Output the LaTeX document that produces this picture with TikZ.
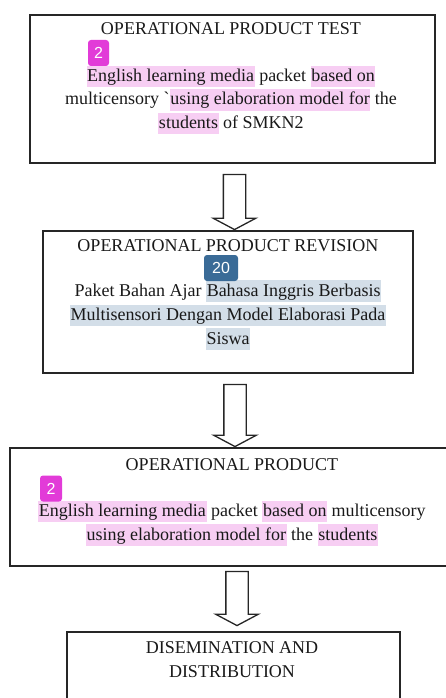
\documentclass[tikz,border=0pt]{standalone}
\usepackage{fontspec}
\setmainfont{Liberation Serif}[Ligatures=TeXOff]
\newfontfamily\badgefont{Liberation Sans}
\usetikzlibrary{shapes.arrows, positioning}

\definecolor{hlpink}{HTML}{F7CEF3}
\definecolor{hlblue}{HTML}{D3DEE8}
\definecolor{tagpink}{HTML}{E23BD8}
\definecolor{tagblue}{HTML}{3A6B97}
\newcommand{\hlp}[1]{{\fboxsep=0.6pt\colorbox{hlpink}{\rule[-0.28em]{0pt}{1.12em}#1}}}
\newcommand{\hlb}[1]{{\fboxsep=0.6pt\colorbox{hlblue}{\rule[-0.28em]{0pt}{1.12em}#1}}}

\begin{document}
\begin{tikzpicture}[x=1pt, y=-1pt,
    box/.style={draw=black!85, line width=1.4pt, inner sep=0pt},
    txt/.style={anchor=base, inner sep=0pt, text=black!90, font=\fontsize{18}{23.5}\selectfont},
    tag/.style={rounded corners=3pt, inner sep=0pt, minimum height=26pt, text=white, font=\badgefont\fontsize{16}{16}\selectfont},
    bigarrow/.style={single arrow, draw=black!85, line width=1.3pt, fill=white, rotate=-90, inner xsep=0pt, inner ysep=10.5pt,
        single arrow head extend=10pt, single arrow tip angle=124, minimum height=#1}]
    \useasboundingbox (0,0) rectangle (446,698);
    % boxes
    \node[box, minimum width=405pt, minimum height=148pt] (test) at (232.5,89) {};
    \node[box, minimum width=370pt, minimum height=142pt] (revision) at (228,302) {};
    \node[box, minimum width=444pt, minimum height=118pt] (product) at (232,507) {};
    \node[box, minimum width=333pt, minimum height=120pt] (dissem) at (233.5,692) {};
    % arrows
    \node[bigarrow=55pt, anchor=tip] (arr1) at ([xshift=6.5pt]revision.north) {};
    \node[bigarrow=62pt, anchor=tip] (arr2) at ([xshift=3pt]product.north) {};
    \node[bigarrow=54pt, anchor=tip] (arr3) at ([xshift=3.5pt, yshift=5pt]dissem.north) {};
    % operational product test
    \node[txt] (testtitle) at (231,35) {OPERATIONAL PRODUCT TEST};
    \node[txt] (testa) at (231,81.5) {\hlp{English learning media} packet \hlp{based on}};
    \node[txt] (testb) at (231,105) {multicensory `\hlp{using elaboration model for} the};
    \node[txt] (testc) at (231,128.5) {\hlp{students} of SMKN2};
    \node[tag, fill=tagpink, minimum width=21pt] (tag1) at (98.5,53) {2};
    % operational product revision
    \node[txt] (revtitle) at (228,251.7) {OPERATIONAL PRODUCT REVISION};
    \node[txt] (reva) at (228,296) {Paket Bahan Ajar \hlb{Bahasa Inggris Berbasis}};
    \node[txt] (revb) at (228,320.5) {\hlb{Multisensori Dengan Model Elaborasi Pada}};
    \node[txt] (revc) at (228,344) {\hlb{Siswa}};
    \node[tag, fill=tagblue, minimum width=34pt] (tag2) at (221,268) {20};
    % operational product
    \node[txt] (prodtitle) at (232,470.7) {OPERATIONAL PRODUCT};
    \node[txt] (proda) at (232,516.7) {\hlp{English learning media} packet \hlp{based on} multicensory};
    \node[txt] (prodb) at (232,540) {\hlp{using elaboration model for} the \hlp{students}};
    \node[tag, fill=tagpink, minimum width=22pt] (tag3) at (51,488.5) {2};
    % disemination
    \node[txt] (dissema) at (232,653) {DISEMINATION AND};
    \node[txt] (dissemb) at (232,677) {DISTRIBUTION};
\end{tikzpicture}
\end{document}
